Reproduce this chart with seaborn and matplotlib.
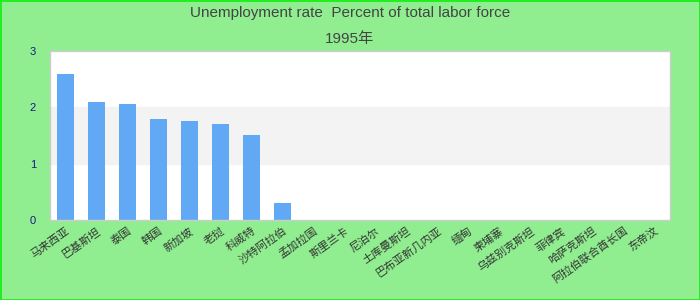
import matplotlib
matplotlib.use('Agg')
import matplotlib.pyplot as plt
import seaborn as sns
import pandas as pd

# data (1995, percent of total labor force)
countries = ['马来西亚', '巴基斯坦', '泰国', '韩国', '新加坡', '老挝', '科威特',
             '沙特阿拉伯', '孟加拉国', '斯里兰卡', '尼泊尔', '土库曼斯坦',
             '巴布亚新几内亚', '缅甸', '柬埔寨', '乌兹别克斯坦', '菲律宾',
             '哈萨克斯坦', '阿拉伯联合酋长国', '东帝汶']
rates = [2.6, 2.1, 2.06, 1.79, 1.76, 1.7, 1.51, 0.3,
         0, 0, 0, 0, 0, 0, 0, 0, 0, 0, 0, 0]
yticks = [0, 1, 2, 3]

df = pd.DataFrame({'country': countries, 'rate': rates})

sns.set_theme(style='white')
plt.rcParams['font.family'] = ['Liberation Sans', 'Noto Sans CJK SC', 'DejaVu Sans']

fig = plt.figure(figsize=(7, 3), dpi=100)
fig.patch.set_facecolor('#90ee90')
fig.patch.set_edgecolor('#22ee22')
fig.patch.set_linewidth(2)
ax = fig.add_axes([0.0714, 0.2667, 0.8857, 0.5633])
ax.set_facecolor('white')

# alternating split area
ax.axhspan(1, 2, color='#f3f3f3', zorder=0)

sns.barplot(data=df, x='country', y='rate', color='#62a9f5', width=0.55,
            saturation=1, linewidth=0, edgecolor='none', ax=ax, zorder=2)

ax.set_ylim(0, 3)
ax.set_yticks(yticks)
ax.set_yticklabels([str(t) for t in yticks], color='#1a1a8c', fontsize=8)
ax.set_xlabel('')
ax.set_ylabel('')
ax.tick_params(axis='both', length=0)
ax.tick_params(axis='y', pad=10)
ax.tick_params(axis='x', pad=4)
plt.setp(ax.get_xticklabels(), rotation=35, ha='right', rotation_mode='anchor',
         fontsize=8, color='#333333')
for s in ax.spines.values():
    s.set_color('#cccccc')
    s.set_linewidth(1)

fig.text(0.5, 0.955, 'Unemployment rate  Percent of total labor force',
         ha='center', va='center', fontsize=11, color='#444444')
fig.text(0.5, 0.87, '1995年', ha='center', va='center', fontsize=11, color='#444444')

fig.savefig('out.png', dpi=100, facecolor=fig.get_facecolor(),
            edgecolor=fig.get_edgecolor())
